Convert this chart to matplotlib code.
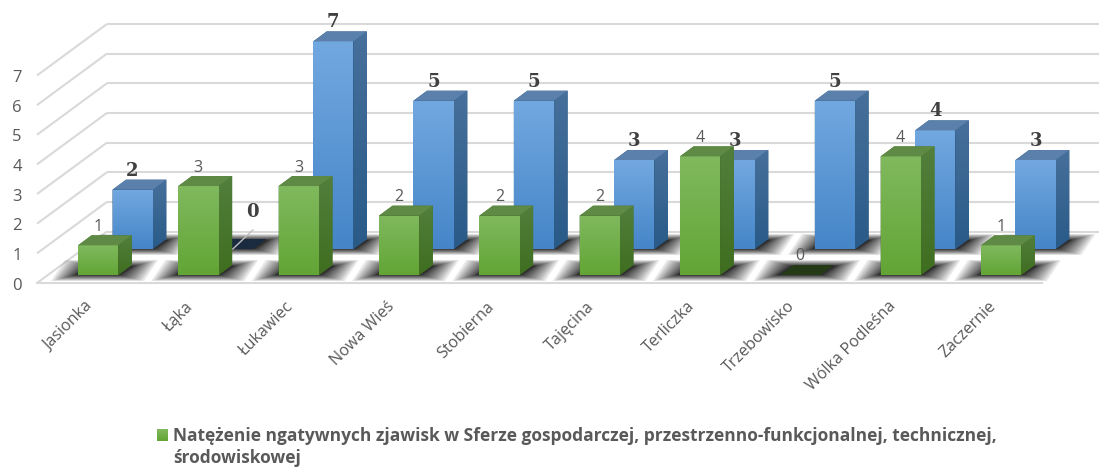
import numpy as np
import matplotlib
matplotlib.use("Agg")
import matplotlib.pyplot as plt
from matplotlib.patches import Polygon

categories = ["Jasionka", "Łąka", "Łukawiec", "Nowa Wieś", "Stobierna", "Tajęcina",
              "Terliczka", "Trzebowisko", "Wólka Podleśna", "Zaczernie"]
green_values = [1, 3, 3, 2, 2, 2, 4, 0, 4, 1]
blue_values = [2, 0, 7, 5, 5, 3, 3, 5, 4, 3]
y_ticks = [0, 1, 2, 3, 4, 5, 6, 7]
legend_text = ("Natężenie ngatywnych zjawisk w Sferze gospodarczej, przestrzenno-funkcjonalnej, "
               "technicznej,\nśrodowiskowej")

W, H = 1099, 468
PXX, PXY = 100.33, 29.65      # pixels per category, pixels per value
X0, Y0 = 98.0, 275.0          # pixel of category 0 / value 0 in front row
fig = plt.figure(figsize=(W / 100, H / 100), dpi=100)
ax = fig.add_axes([0, 0, 1, 1])
ax.set_xlim(-X0 / PXX, (W - X0) / PXX)
ax.set_ylim((Y0 - H) / PXY, Y0 / PXY)
ax.axis("off")
dx = lambda p: p / PXX
dy = lambda p: p / PXY

TXT = "#595959"
SANS = "Open Sans"
GRID = "#d9d9d9"

# wall and floor grid
wall = dy(Y0 - 231.5)
front = -dy(283 - Y0)
xl_f, xl_b = dx(37 - X0), dx(107 - X0)
for v in y_ticks:
    ax.plot([xl_f, xl_b], [v + front, v + wall], color=GRID, lw=1.5, zorder=1, solid_capstyle="butt")
    ax.plot([xl_b, dx(1099 - X0)], [v + wall, v + wall], color=GRID, lw=1.5, zorder=1, solid_capstyle="butt")
    ax.text(dx(17 - X0), v + front - dy(2.5), str(v), color=TXT, fontsize=12, ha="center", va="center",
            family=SANS, zorder=50)
ax.plot([xl_f, dx(1042 - X0)], [front, front], color=GRID, lw=1.5, zorder=1)


def shadow(x, base, z):
    """Blurred floor shadow around a bar whose left edge is x at front base."""
    n = 18
    for k in range(n):
        f = (1 - k / (n - 1)) ** 1.6
        g = 24 * f
        gy = 6 * f
        l, r = x - dx(3 + g), x + dx(42 + g)
        b, t = base - dy(0 + gy), base + dy(9 + gy)
        sk = dx(14)
        ax.add_patch(Polygon([(l, b), (r, b), (r + sk, t), (l + sk, t)], closed=True,
                             fc="black", ec="none", alpha=0.085, zorder=z))


def grad_poly(pts, c_top, c_bot, y_top, y_bot, z):
    col = matplotlib.colors.to_rgb
    grad = np.linspace(0, 1, 64)[:, None, None]
    img = (1 - grad) * np.array(col(c_top)) + grad * np.array(col(c_bot))
    xs = [p[0] for p in pts]
    im = ax.imshow(img, extent=[min(xs), max(xs), y_bot, y_top], origin="upper", aspect="auto",
                   zorder=z, interpolation="bilinear")
    pg = Polygon(pts, closed=True, transform=ax.transData, fc="none", ec="none")
    ax.add_patch(pg)
    im.set_clip_path(pg)


def bar(x, base, v, pal, z):
    w, ddx, ddy = dx(40.3), dx(13.5), dy(10)
    y = base + v
    if v == 0:
        ax.add_patch(Polygon([(x, base), (x + w, base), (x + w + ddx, base + ddy), (x + ddx, base + ddy)],
                             closed=True, fc=pal["zero"], ec="none", zorder=z))
        return
    ax.add_patch(Polygon([(x, base), (x + w, base), (x + w + ddx, base + ddy), (x + w + ddx, y + ddy),
                          (x + ddx, y + ddy), (x, y)], closed=True, fc=pal["s1"], ec="none", zorder=z - 0.1))
    grad_poly([(x + w, base), (x + w + ddx, base + ddy), (x + w + ddx, y + ddy), (x + w, y)],
              pal["s0"], pal["s1"], y + ddy, base, z)
    grad_poly([(x, base), (x + w, base), (x + w, y), (x, y)], pal["f0"], pal["f1"], y, base, z + 0.1)
    ax.add_patch(Polygon([(x, y), (x + w, y), (x + w + ddx, y + ddy), (x + ddx, y + ddy)],
                         closed=True, fc=pal["t"], ec="none", zorder=z + 0.2))


BLUE = dict(f0="#72a8e0", f1="#4585c8", s0="#47709b", s1="#295a88", t="#5a80ab", zero="#1a2b40")
GREEN = dict(f0="#80b95e", f1="#62a535", s0="#527f3c", s1="#3f6e20", t="#5f8a46", zero="#243a16")
blue_dx, blue_dy = dx(34.5), dy(26)
left = dx(-20)

xs_g = [i + left for i in range(len(categories))]
xs_b = [i + left + blue_dx for i in range(len(categories))]

for x in xs_b:
    shadow(x, blue_dy, 2)
for x in xs_g:
    shadow(x, 0, 3)
for i, (x, v) in enumerate(zip(xs_b, blue_values)):
    bar(x, blue_dy, v, BLUE, 10 + i * 0.5)
for i, (x, v) in enumerate(zip(xs_g, green_values)):
    bar(x, 0, v, GREEN, 20 + i * 0.5)

# data labels
for x, v in zip(xs_b, blue_values):
    if v == 0:
        lx, ly = x + dx(40), blue_dy + dy(37)
        ax.plot([x + dx(20), x + dx(40)], [blue_dy, blue_dy + dy(19)], color="#bfbfbf", lw=1, zorder=29)
    else:
        lx, ly = x + dx(20), blue_dy + v + dy(19)
    ax.text(lx, ly, str(v), family="DejaVu Serif", weight="bold", fontsize=13, color="#404040",
            ha="center", va="center", zorder=40)
for x, v in zip(xs_g, green_values):
    ax.text(x + dx(20), v + dy(18.5), str(v), family=SANS, fontsize=11.5, color=TXT,
            ha="center", va="center", zorder=40)

# category labels
for i, c in enumerate(categories):
    ax.text(i + dx(-13), -dy(298.5 - Y0), c, rotation=45, rotation_mode="anchor", ha="right", va="top",
            family=SANS, fontsize=11.6, color=TXT, zorder=40)

# legend
lx0, lx1 = dx(157 - X0), dx(168 - X0)
ly0, ly1 = -dy(441 - Y0), -dy(429 - Y0)
grad_poly([(lx0, ly0), (lx1, ly0), (lx1, ly1), (lx0, ly1)], GREEN["f0"], GREEN["f1"], ly1, ly0, 40)
ax.text(dx(173 - X0), -dy(427 - Y0), legend_text, family=SANS, weight="bold", fontsize=12.5, color=TXT,
        ha="left", va="top", linespacing=1.32, zorder=40)

ax.set_xlim(-X0 / PXX, (W - X0) / PXX)
ax.set_ylim((Y0 - H) / PXY, Y0 / PXY)
fig.savefig("out.png", dpi=100, facecolor="white")
